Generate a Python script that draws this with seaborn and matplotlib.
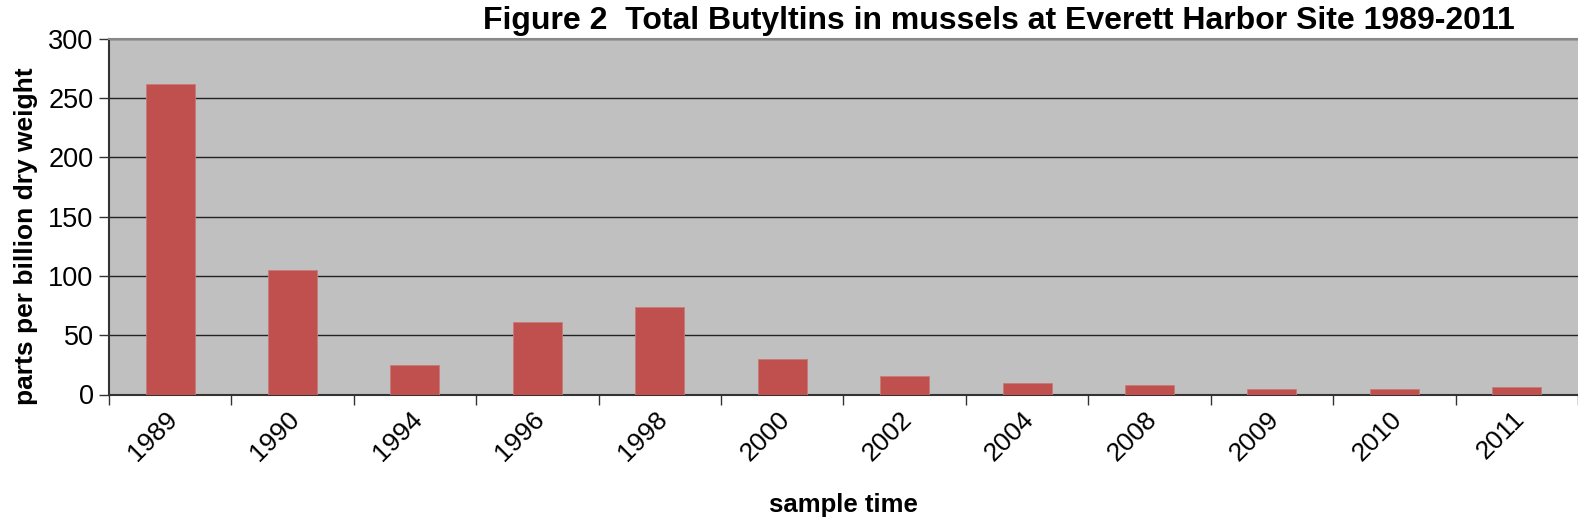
import matplotlib
matplotlib.use("Agg")
import matplotlib.pyplot as plt
import matplotlib.transforms as mtransforms
import seaborn as sns
import pandas as pd
import numpy as np

years = ["1989", "1990", "1994", "1996", "1998", "2000", "2002", "2004", "2008", "2009", "2010", "2011"]
values = [262, 105, 25, 61, 74, 30, 16, 10, 8, 4.3, 4.3, 6]
y_ticks = [0, 50, 100, 150, 200, 250, 300]

sns.set_theme(style="white")
plt.rcParams['font.family'] = ['Liberation Sans', 'DejaVu Sans']
plt.rcParams['text.color'] = 'black'
plt.rcParams['axes.labelcolor'] = 'black'
plt.rcParams['xtick.color'] = 'black'
plt.rcParams['ytick.color'] = 'black'

df = pd.DataFrame({"year": years, "value": values})

fig = plt.figure(figsize=(15.78, 5.26), dpi=100)
ax = fig.add_axes([0.069, 0.25, 0.931, 0.676])
ax.set_facecolor("#C0C0C0")

sns.barplot(data=df, x="year", y="value", ax=ax, color="#C0504D", saturation=1,
            width=0.4, edgecolor="#C97A78", linewidth=0.6, zorder=3)

ax.set_xlim(-0.5, len(years) - 0.5)
ax.set_ylim(0, 300)
ax.set_yticks(y_ticks)
ax.set_yticklabels([str(t) for t in y_ticks], fontsize=19.5)
ax.yaxis.grid(True, color="#222222", linewidth=1.0, zorder=1)
ax.set_axisbelow(True)

# x ticks: labels at centers, tick marks at boundaries
ax.set_xticks(np.arange(len(years)))
ax.set_xticklabels(years, rotation=45, ha="right", fontsize=19)
ax.tick_params(axis="x", which="major", length=0, pad=9)
ax.set_xticks(np.arange(len(years) + 1) - 0.5, minor=True)
ax.tick_params(axis="x", which="minor", length=7, width=1, color="#333333", direction="out", bottom=True)
ax.tick_params(axis="y", length=7, width=1, color="#333333", direction="out", left=True, pad=4)

offset = mtransforms.ScaledTranslation(12 / 100, 0, fig.dpi_scale_trans)
for lab in ax.get_xticklabels():
    lab.set_transform(lab.get_transform() + offset)

for side in ["left", "bottom"]:
    ax.spines[side].set_color("#333333")
    ax.spines[side].set_linewidth(1.5)
ax.spines["top"].set_color("#888888")
ax.spines["top"].set_linewidth(1.5)
ax.spines["right"].set_visible(False)

ax.set_xlabel("sample time", fontsize=18.5, fontweight="bold", labelpad=20)
ax.set_ylabel("parts per billion dry weight", fontsize=19, fontweight="bold")
ax.yaxis.set_label_coords(-0.048, 0.446)

fig.text(0.96, 0.988, "Figure 2  Total Butyltins in mussels at Everett Harbor Site 1989-2011",
         ha="right", va="top", fontsize=23, fontweight="bold")

fig.savefig("out.png", dpi=100, facecolor="white")
